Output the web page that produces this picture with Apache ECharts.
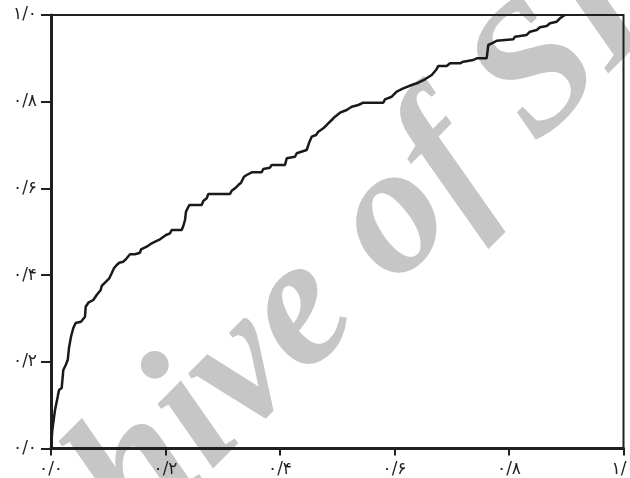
<!DOCTYPE html>
<html><head><meta charset="utf-8">
<script src="https://cdn.jsdelivr.net/npm/echarts@6/dist/echarts.min.js"></script>
<style>html,body{margin:0;padding:0;background:#fff}#c{width:630px;height:478px}</style>
</head><body><div id="c"></div>
<script>
const xTickLabels = ['۰/۰','۰/۲','۰/۴','۰/۶','۰/۸','۱/۰'];
const yTickLabels = ['۰/۰','۰/۲','۰/۴','۰/۶','۰/۸','۱/۰'];
const fpr = [0,0.0023,0.007,0.0117,0.014,0.0187,0.0215,0.0257,0.0292,0.0314,0.0349,0.039,0.0431,0.0524,0.0594,0.0606,0.0652,0.0739,0.0798,0.0868,0.0886,0.0943,0.1018,0.106,0.11,0.1148,0.1193,0.1263,0.1322,0.138,0.1467,0.1555,0.1572,0.1672,0.1759,0.1846,0.1904,0.2009,0.2079,0.2108,0.2283,0.2311,0.2341,0.2358,0.2416,0.2632,0.266,0.272,0.2748,0.3127,0.3156,0.3214,0.3272,0.3319,0.3371,0.3418,0.3506,0.368,0.3708,0.3825,0.3855,0.4087,0.4117,0.4262,0.4292,0.4466,0.448,0.4515,0.4554,0.4629,0.4669,0.4756,0.4816,0.4903,0.4961,0.5048,0.5165,0.5252,0.5368,0.5455,0.5804,0.5834,0.5951,0.6038,0.6154,0.63,0.6416,0.6533,0.665,0.6725,0.6765,0.6912,0.6969,0.7144,0.7202,0.7376,0.7436,0.761,0.7638,0.7726,0.7785,0.8075,0.8105,0.8309,0.8367,0.8484,0.8541,0.8659,0.8716,0.8833,0.889,0.8948,0.8978];
const tpr = [0,0.0427,0.0888,0.1195,0.135,0.1396,0.181,0.1926,0.204,0.2318,0.2579,0.278,0.2895,0.2925,0.304,0.327,0.3363,0.3426,0.3541,0.3656,0.3749,0.3825,0.3926,0.4042,0.4157,0.4233,0.4286,0.4309,0.4388,0.448,0.448,0.4517,0.4595,0.4655,0.4734,0.4787,0.4826,0.4925,0.4964,0.504,0.504,0.5133,0.5271,0.5463,0.5617,0.5617,0.571,0.5772,0.5871,0.5871,0.5947,0.6002,0.6078,0.6131,0.627,0.6309,0.6371,0.6371,0.6448,0.6478,0.654,0.654,0.6694,0.6731,0.681,0.6886,0.6886,0.7077,0.7193,0.7232,0.7308,0.7386,0.7463,0.7578,0.7654,0.7746,0.7809,0.7885,0.7924,0.7977,0.7977,0.8055,0.8115,0.8231,0.8309,0.8385,0.8438,0.8517,0.8616,0.8731,0.8824,0.8824,0.8886,0.8886,0.8923,0.8962,0.9001,0.9001,0.9308,0.9361,0.9407,0.944,0.95,0.9539,0.9615,0.9654,0.9716,0.9746,0.9808,0.9845,0.9924,0.9977,1.0];
const watermark = 'Archive of SID';

const chart = echarts.init(document.getElementById('c'), null, {renderer:'canvas'});
const ink = '#231f20';
const lblFont = {color:'#231f20', fontSize:17, fontFamily:'DejaVu Sans'};
chart.setOption({
  animation:false,
  backgroundColor:'#fff',
  grid:{left:51, right:6.5, top:15, bottom:29.5, containLabel:false, outerBoundsMode:'none', show:true, borderColor:ink, borderWidth:2, backgroundColor:'transparent', z:3},
  graphic:{elements:[{
    type:'text', x:314, y:300, rotation:Math.PI/4, z:-10, silent:true,
    style:{text:watermark, fill:'#c6c6c6', font:'italic bold 185px "Liberation Serif"',
      align:'center', verticalAlign:'middle', textAlign:'center', textVerticalAlign:'middle'}
  }]},
  xAxis:{type:'value', min:0, max:1, interval:0.2,
    axisLine:{lineStyle:{color:ink, width:3}},
    axisTick:{length:7, lineStyle:{color:ink, width:2}},
    splitLine:{show:false},
    axisLabel:Object.assign({margin:13, formatter:v=>xTickLabels[Math.round(v/0.2)], showMaxLabel:true, alignMaxLabel:'center', hideOverlap:false}, lblFont)},
  yAxis:{type:'value', min:0, max:1, interval:0.2,
    axisLine:{lineStyle:{color:ink, width:3}},
    axisTick:{length:10, lineStyle:{color:ink, width:2}},
    splitLine:{show:false},
    axisLabel:Object.assign({margin:14, formatter:v=>yTickLabels[Math.round(v/0.2)]}, lblFont)},
  series:[{type:'line', symbol:'none', z:5,
    data:fpr.map((x,i)=>[x,tpr[i]]),
    lineStyle:{color:'#1a1a1a', width:2.5}}]
});
</script></body></html>
